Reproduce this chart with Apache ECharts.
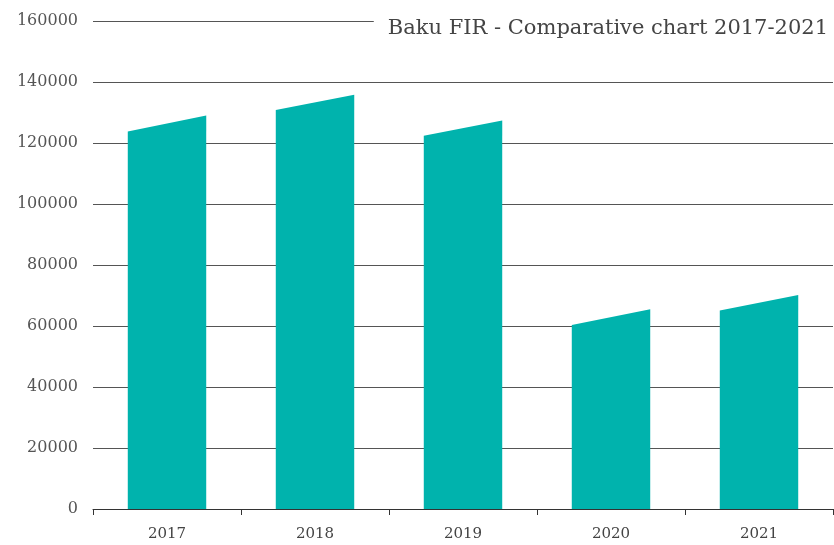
<!DOCTYPE html>
<html>
<head>
<meta charset="utf-8">
<script src="https://cdn.jsdelivr.net/npm/echarts@6/dist/echarts.min.js"></script>
<style>
    html, body { margin: 0; padding: 0; background: #fff; }
    #chart { width: 834px; height: 545px; }
</style>
</head>
<body>
<div id="chart"></div>
<script>
// 年份
var years = ['2017', '2018', '2019', '2020', '2021'];
// 柱子左上角 / 右上角的值（斜顶柱）
var leftValues = [123800, 130800, 122400, 60300, 65100];
var rightValues = [129000, 135800, 127400, 65500, 70200];
// y轴刻度
var yTicks = [0, 20000, 40000, 60000, 80000, 100000, 120000, 140000, 160000];

var myChart = echarts.init(document.getElementById('chart'));

var seriesData = [];
for (var i = 0; i < years.length; i++) {
    seriesData.push([i, leftValues[i], rightValues[i]]);
}

// 斜顶柱子
function renderBar(params, api) {
    var idx = api.value(0);
    var base = api.coord([idx, 0]);
    var pLeft = api.coord([idx, api.value(1)]);
    var pRight = api.coord([idx, api.value(2)]);
    var w = api.size([1, 0])[0] * 0.53;
    var x0 = base[0] - w / 2;
    var x1 = base[0] + w / 2;
    return {
        type: 'polygon',
        shape: {
            points: [[x0, base[1]], [x0, pLeft[1]], [x1, pRight[1]], [x1, base[1]]]
        },
        style: { fill: '#00b3ad' }
    };
}

var option = {
    animation: false,
    textStyle: { fontFamily: 'DejaVu Serif' },
    title: {
        text: 'Baku FIR - Comparative chart 2017-2021',
        right: 0,
        top: 16,
        padding: [2, 6, 2, 14],
        backgroundColor: '#fff',
        textStyle: {
            fontFamily: 'DejaVu Serif',
            fontWeight: 'normal',
            fontSize: 21,
            color: '#444'
        }
    },
    grid: {
        left: 93,
        right: 1,
        top: 21,
        bottom: 36
    },
    xAxis: {
        type: 'category',
        data: years,
        axisLine: { lineStyle: { color: '#333', width: 1 } },
        axisTick: { show: true, length: 6, lineStyle: { color: '#333' } },
        axisLabel: { color: '#444', fontSize: 15, margin: 18, fontFamily: 'DejaVu Serif' }
    },
    yAxis: {
        type: 'value',
        min: yTicks[0],
        max: yTicks[yTicks.length - 1],
        interval: 20000,
        axisLine: { show: false },
        axisTick: { show: false },
        axisLabel: {
            color: '#555',
            fontSize: 16,
            margin: 15,
            fontFamily: 'DejaVu Serif',
            formatter: function (v) { return String(v); }
        },
        splitLine: { lineStyle: { color: '#555', width: 1 } }
    },
    series: [
        {
            type: 'custom',
            renderItem: renderBar,
            encode: { x: 0, y: [1, 2] },
            data: seriesData
        }
    ]
};

myChart.setOption(option);
</script>
</body>
</html>
